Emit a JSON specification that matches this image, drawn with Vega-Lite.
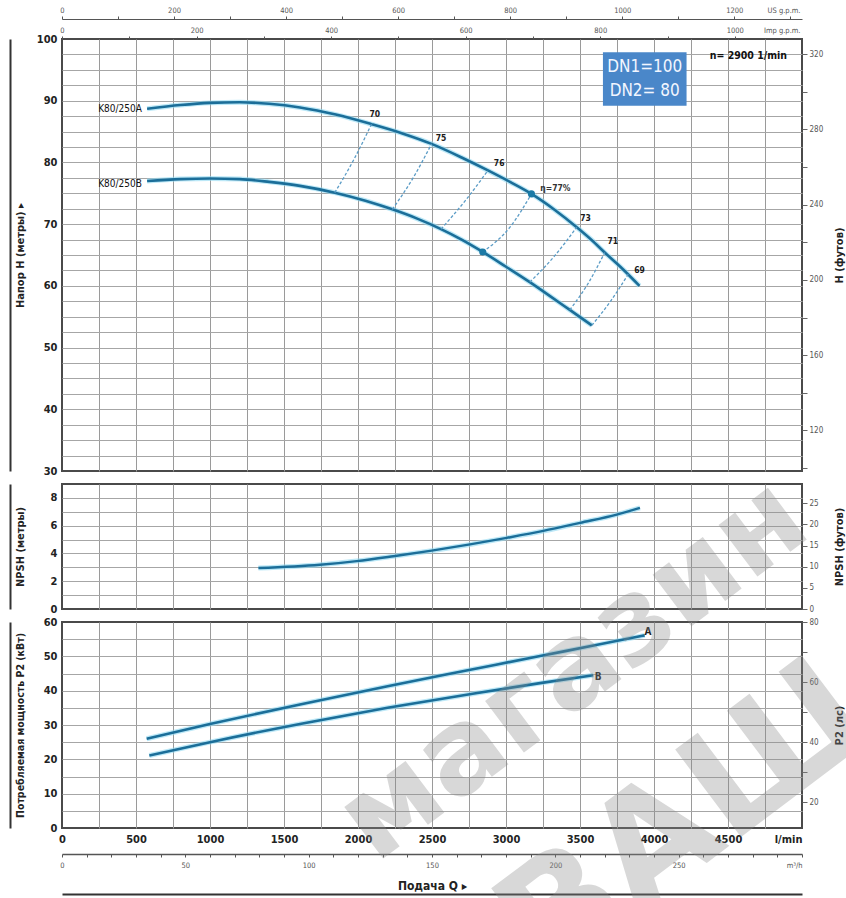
{
  "$schema": "https://vega.github.io/schema/vega-lite/v6.json",
  "background": "white",
  "padding": {"left": 9, "top": 5, "right": 0, "bottom": 0},
  "spacing": 13,
  "bounds": "flush",
  "config": {
    "font": "Liberation Sans Narrow, Arial Narrow, DejaVu Sans Condensed, sans-serif",
    "view": {"stroke": "#4a4a4a", "strokeWidth": 2},
    "axis": {
      "labelFont": "Liberation Sans Narrow, Arial Narrow, DejaVu Sans Condensed, sans-serif",
      "titleFont": "Liberation Sans Narrow, Arial Narrow, DejaVu Sans Condensed, sans-serif",
      "labelFlush": false, "labelOverlap": false, "labelBound": false,
      "gridColor": "#a6a6a6", "gridWidth": 1,
      "domain": false, "ticks": false,
      "labelColor": "#222", "titleColor": "#222",
      "labelFontSize": 11, "labelFontWeight": "bold", "labelPadding": 5,
      "titleFontSize": 11, "titleFontWeight": "bold"
    },
    "text": {"font": "Liberation Sans Narrow, Arial Narrow, DejaVu Sans Condensed, sans-serif"}
  },
  "datasets": {
    "head": [
      {"pump": "A", "q": 575, "h": 88.7}, {"pump": "A", "q": 800, "h": 89.3}, {"pump": "A", "q": 1000, "h": 89.65},
      {"pump": "A", "q": 1200, "h": 89.75}, {"pump": "A", "q": 1400, "h": 89.5}, {"pump": "A", "q": 1608, "h": 88.9},
      {"pump": "A", "q": 1850, "h": 87.75}, {"pump": "A", "q": 2091, "h": 86.2}, {"pump": "A", "q": 2300, "h": 84.7},
      {"pump": "A", "q": 2497, "h": 83.0}, {"pump": "A", "q": 2700, "h": 80.8}, {"pump": "A", "q": 2878, "h": 78.7},
      {"pump": "A", "q": 3030, "h": 76.8}, {"pump": "A", "q": 3172, "h": 74.9}, {"pump": "A", "q": 3330, "h": 72.3},
      {"pump": "A", "q": 3478, "h": 69.5}, {"pump": "A", "q": 3580, "h": 67.4}, {"pump": "A", "q": 3667, "h": 65.4},
      {"pump": "A", "q": 3790, "h": 62.7}, {"pump": "A", "q": 3902, "h": 60.0},
      {"pump": "B", "q": 575, "h": 77.0}, {"pump": "B", "q": 800, "h": 77.3}, {"pump": "B", "q": 1000, "h": 77.4},
      {"pump": "B", "q": 1200, "h": 77.3}, {"pump": "B", "q": 1400, "h": 76.85}, {"pump": "B", "q": 1608, "h": 76.2},
      {"pump": "B", "q": 1843, "h": 75.1}, {"pump": "B", "q": 2050, "h": 73.8}, {"pump": "B", "q": 2232, "h": 72.4},
      {"pump": "B", "q": 2400, "h": 70.9}, {"pump": "B", "q": 2561, "h": 69.2}, {"pump": "B", "q": 2700, "h": 67.5},
      {"pump": "B", "q": 2843, "h": 65.5}, {"pump": "B", "q": 3000, "h": 63.1}, {"pump": "B", "q": 3161, "h": 60.6},
      {"pump": "B", "q": 3300, "h": 58.3}, {"pump": "B", "q": 3431, "h": 56.1}, {"pump": "B", "q": 3580, "h": 53.6}
    ],
    "eta": [
      {"eff": "70", "q": 1843, "h": 75.1}, {"eff": "70", "q": 1975, "h": 80.6}, {"eff": "70", "q": 2091, "h": 86.2},
      {"eff": "75", "q": 2232, "h": 72.4}, {"eff": "75", "q": 2375, "h": 77.6}, {"eff": "75", "q": 2497, "h": 83.0},
      {"eff": "76", "q": 2561, "h": 69.2}, {"eff": "76", "q": 2728, "h": 73.9}, {"eff": "76", "q": 2878, "h": 78.7},
      {"eff": "77", "q": 2843, "h": 65.5}, {"eff": "77", "q": 3030, "h": 69.6}, {"eff": "77", "q": 3172, "h": 74.9},
      {"eff": "73", "q": 3161, "h": 60.6}, {"eff": "73", "q": 3330, "h": 64.9}, {"eff": "73", "q": 3478, "h": 69.5},
      {"eff": "71", "q": 3431, "h": 56.1}, {"eff": "71", "q": 3560, "h": 60.6}, {"eff": "71", "q": 3667, "h": 65.4},
      {"eff": "69", "q": 3580, "h": 53.6}, {"eff": "69", "q": 3712, "h": 57.7}, {"eff": "69", "q": 3826, "h": 61.9}
    ],
    "bep": [{"pump": "A", "q": 3172, "h": 74.9}, {"pump": "B", "q": 2843, "h": 65.5}],
    "effLabels": [
      {"label": "70", "q": 2114, "h": 87.9}, {"label": "75", "q": 2561, "h": 83.9},
      {"label": "76", "q": 2954, "h": 79.9}, {"label": "73", "q": 3537, "h": 71.0},
      {"label": "71", "q": 3721, "h": 67.2}, {"label": "69", "q": 3902, "h": 62.6}
    ],
    "bepLabel": [{"label": "η=77%", "q": 3232, "h": 75.8}],
    "pumpLabels": [{"label": "K80/250A", "q": 540, "h": 88.65}, {"label": "K80/250B", "q": 540, "h": 76.5}],
    "speed": [{"label": "n= 2900 1/min", "q": 4899, "h": 97.3}],
    "dnBox": [{"q1": 3655, "q2": 4220, "h1": 89.2, "h2": 97.85}],
    "dnText": [{"label": "DN1=100", "q": 3937, "h": 95.45}, {"label": "DN2= 80", "q": 3937, "h": 91.5}],
    "npsh": [
      {"q": 1327, "npsh": 2.95}, {"q": 1743, "npsh": 3.19}, {"q": 1991, "npsh": 3.45}, {"q": 2239, "npsh": 3.8},
      {"q": 2498, "npsh": 4.2}, {"q": 2757, "npsh": 4.65}, {"q": 3005, "npsh": 5.12}, {"q": 3252, "npsh": 5.62},
      {"q": 3500, "npsh": 6.2}, {"q": 3748, "npsh": 6.8}, {"q": 3905, "npsh": 7.28}
    ],
    "power": [
      {"pump": "A", "q": 572, "p": 26.0}, {"pump": "A", "q": 1000, "p": 30.3}, {"pump": "A", "q": 1608, "p": 36.0},
      {"pump": "A", "q": 2200, "p": 41.3}, {"pump": "A", "q": 2785, "p": 46.3}, {"pump": "A", "q": 3230, "p": 50.1},
      {"pump": "A", "q": 3600, "p": 53.2}, {"pump": "A", "q": 3937, "p": 56.1},
      {"pump": "B", "q": 590, "p": 21.1}, {"pump": "B", "q": 1000, "p": 25.0}, {"pump": "B", "q": 1608, "p": 30.3},
      {"pump": "B", "q": 2200, "p": 35.0}, {"pump": "B", "q": 2785, "p": 39.2}, {"pump": "B", "q": 3230, "p": 42.2},
      {"pump": "B", "q": 3590, "p": 44.5}
    ],
    "powerLabels": [{"label": "A", "q": 3959, "p": 57.0}, {"label": "B", "q": 3622, "p": 43.9}],
    "stamp1": [{"label": "магазин", "q": 3601, "p": 37.6}],
    "stamp2": [{"label": "ВАШ", "q": 4392, "p": -9.0}]
  },
  "vconcat": [
    {
      "width": 740, "height": 432,
      "layer": [
        {
          "data": {"name": "head"},
          "mark": {"type": "line", "color": "#8fd8f2", "strokeWidth": 5, "opacity": 0.6, "interpolate": "monotone"},
          "encoding": {
            "x": {"field": "q", "type": "quantitative", "scale": {"domain": [0, 5000], "nice": false, "zero": false},
              "axis": {"values": [0,250,500,750,1000,1250,1500,1750,2000,2250,2500,2750,3000,3250,3500,3750,4000,4250,4500,4750,5000],
                "labels": false, "title": null, "gridColor": "#9a9a9a",
                "gridOpacity": {"condition": {"test": "datum.value == 0 || datum.value == 5000", "value": 0}, "value": 1}}},
            "y": {"field": "h", "type": "quantitative", "scale": {"domain": [30, 100], "nice": false, "zero": false},
              "axis": {"values": [30,32.5,35,37.5,40,42.5,45,47.5,50,52.5,55,57.5,60,62.5,65,67.5,70,72.5,75,77.5,80,82.5,85,87.5,90,92.5,95,97.5,100],
                "format": "d", "labelExpr": "datum.value % 10 == 0 ? datum.label : ''",
                "title": "Напор H (метры) ▸", "titleX": -42, "titleAngle": 270, "titleBaseline": "middle",
                "gridOpacity": {"condition": {"test": "datum.value == 30 || datum.value == 100", "value": 0}, "value": 1}}},
            "detail": {"field": "pump"}
          }
        },
        {
          "data": {"name": "head"},
          "mark": {"type": "line", "color": "#1b6e99", "strokeWidth": 2.6, "interpolate": "monotone"},
          "encoding": {
            "x": {"field": "q", "type": "quantitative", "axis": null},
            "y": {"field": "h", "type": "quantitative", "axis": null},
            "detail": {"field": "pump"}
          }
        },
        {
          "data": {"name": "eta"},
          "mark": {"type": "line", "color": "#5b9cc6", "strokeWidth": 1.3, "strokeDash": [3, 2], "interpolate": "monotone"},
          "encoding": {
            "x": {"field": "q", "type": "quantitative", "axis": null},
            "y": {"field": "h", "type": "quantitative", "axis": null},
            "detail": {"field": "eff"}
          }
        },
        {
          "data": {"name": "bep"},
          "mark": {"type": "point", "filled": true, "color": "#1b7aa6", "size": 50, "opacity": 1},
          "encoding": {
            "x": {"field": "q", "type": "quantitative", "axis": null},
            "y": {"field": "h", "type": "quantitative", "axis": null}
          }
        },
        {
          "data": {"name": "effLabels"},
          "mark": {"type": "text", "fontSize": 8.5, "fontWeight": "bold", "color": "#1a1a1a"},
          "encoding": {
            "x": {"field": "q", "type": "quantitative", "axis": null},
            "y": {"field": "h", "type": "quantitative", "axis": null},
            "text": {"field": "label"}
          }
        },
        {
          "data": {"name": "bepLabel"},
          "mark": {"type": "text", "fontSize": 8.5, "fontWeight": "bold", "color": "#333", "align": "left"},
          "encoding": {
            "x": {"field": "q", "type": "quantitative", "axis": null},
            "y": {"field": "h", "type": "quantitative", "axis": null},
            "text": {"field": "label"}
          }
        },
        {
          "data": {"name": "pumpLabels"},
          "mark": {"type": "text", "fontSize": 10, "color": "#111", "align": "right"},
          "encoding": {
            "x": {"field": "q", "type": "quantitative", "axis": null},
            "y": {"field": "h", "type": "quantitative", "axis": null},
            "text": {"field": "label"}
          }
        },
        {
          "data": {"name": "speed"},
          "mark": {"type": "text", "fontSize": 10.5, "fontWeight": "bold", "color": "#111", "align": "right"},
          "encoding": {
            "x": {"field": "q", "type": "quantitative", "axis": null},
            "y": {"field": "h", "type": "quantitative", "axis": null},
            "text": {"field": "label"}
          }
        },
        {
          "data": {"name": "dnBox"},
          "mark": {"type": "rect", "color": "#4a87c9"},
          "encoding": {
            "x": {"field": "q1", "type": "quantitative", "axis": null},
            "x2": {"field": "q2"},
            "y": {"field": "h1", "type": "quantitative", "axis": null},
            "y2": {"field": "h2"}
          }
        },
        {
          "data": {"name": "dnText"},
          "mark": {"type": "text", "fontSize": 17, "color": "#f2f6ff"},
          "encoding": {
            "x": {"field": "q", "type": "quantitative", "axis": null},
            "y": {"field": "h", "type": "quantitative", "axis": null},
            "text": {"field": "label"}
          }
        },
        {
          "data": {"values": [{}]},
          "mark": {"type": "point", "opacity": 0},
          "encoding": {
            "x": {"datum": 2500, "type": "quantitative", "axis": null},
            "y": {"datum": 60, "type": "quantitative",
              "axis": {"orient": "right", "values": [30.48,36.576,42.672,48.768,54.864,60.96,67.056,73.152,79.248,85.344,91.44,97.536],
                "labelExpr": "round(datum.value * 3.28084) % 40 == 0 ? format(round(datum.value * 3.28084), 'd') : ''", "grid": false,
                "ticks": true, "tickSize": 5, "tickColor": "#666",
                "labelFontSize": 8, "labelFontWeight": "normal", "labelColor": "#555", "labelPadding": 2,
                "title": "H (футов)", "titleAngle": 270, "titleX": 37, "titleBaseline": "middle"}}
          }
        },
        {
          "data": {"values": [{}]},
          "mark": {"type": "point", "opacity": 0},
          "encoding": {
            "x": {"datum": 2500, "type": "quantitative", "axis": null},
            "y": {"datum": 60, "type": "quantitative",
              "axis": {"orient": "left", "offset": 52, "domain": true, "domainColor": "#333", "domainWidth": 2,
                "labels": false, "grid": false, "title": null}}
          }
        },
        {
          "data": {"values": [{}]},
          "mark": {"type": "point", "opacity": 0},
          "encoding": {
            "y": {"datum": 60, "type": "quantitative", "axis": null},
            "x": {"datum": 2500, "type": "quantitative",
              "axis": {"orient": "top", "offset": 20,
                "values": [0,378.541,757.082,1135.623,1514.164,1892.705,2271.246,2649.787,3028.328,3406.869,3785.41,4163.951,4542.492,4921.033],
                "labelExpr": "round(datum.value / 3.78541) % 200 == 0 ? format(round(datum.value / 3.78541), 'd') : ''", "grid": false,
                "domain": true, "domainColor": "#555", "domainWidth": 1,
                "ticks": true, "tickSize": 3, "tickColor": "#555",
                "labelFontSize": 7.5, "labelFontWeight": "normal", "labelColor": "#555", "labelPadding": 2,
                "title": "US g.p.m.", "titleFontSize": 7.5, "titleFontWeight": "normal", "titleColor": "#555",
                "titleX": 738, "titleY": -9, "titleAlign": "right", "titleBaseline": "middle"}}
          }
        },
        {
          "data": {"values": [{}]},
          "mark": {"type": "point", "opacity": 0},
          "encoding": {
            "y": {"datum": 60, "type": "quantitative", "axis": null},
            "x": {"datum": 2500, "type": "quantitative",
              "axis": {"orient": "top", "offset": 0,
                "values": [0,454.609,909.218,1363.827,1818.436,2273.045,2727.654,3182.263,3636.872,4091.481,4546.09],
                "labelExpr": "round(datum.value / 4.54609) % 200 == 0 ? format(round(datum.value / 4.54609), 'd') : ''", "grid": false,
                "ticks": true, "tickSize": 3, "tickColor": "#555",
                "labelFontSize": 7.5, "labelFontWeight": "normal", "labelColor": "#555", "labelPadding": 2,
                "title": "Imp g.p.m.", "titleFontSize": 7.5, "titleFontWeight": "normal", "titleColor": "#555",
                "titleX": 738, "titleY": -9, "titleAlign": "right", "titleBaseline": "middle"}}
          }
        }
      ],
      "resolve": {"axis": {"x": "independent", "y": "independent"}}
    },
    {
      "width": 740, "height": 125,
      "layer": [
        {
          "data": {"name": "npsh"},
          "mark": {"type": "line", "color": "#8fd8f2", "strokeWidth": 5, "opacity": 0.6, "interpolate": "monotone"},
          "encoding": {
            "x": {"field": "q", "type": "quantitative", "scale": {"domain": [0, 5000], "nice": false, "zero": false},
              "axis": {"values": [0,250,500,750,1000,1250,1500,1750,2000,2250,2500,2750,3000,3250,3500,3750,4000,4250,4500,4750,5000],
                "labels": false, "title": null, "gridColor": "#9a9a9a",
                "gridOpacity": {"condition": {"test": "datum.value == 0 || datum.value == 5000", "value": 0}, "value": 1}}},
            "y": {"field": "npsh", "type": "quantitative", "scale": {"domain": [0, 9], "nice": false, "zero": false},
              "axis": {"values": [0,0.5,1,1.5,2,2.5,3,3.5,4,4.5,5,5.5,6,6.5,7,7.5,8,8.5,9],
                "format": "d", "labelExpr": "datum.value % 2 == 0 ? datum.label : ''",
                "title": "NPSH (метры)", "titleX": -42, "titleAngle": 270, "titleBaseline": "middle",
                "gridOpacity": {"condition": {"test": "datum.value == 0 || datum.value == 9", "value": 0}, "value": 1}}}
          }
        },
        {
          "data": {"name": "npsh"},
          "mark": {"type": "line", "color": "#1b6e99", "strokeWidth": 2.4, "interpolate": "monotone"},
          "encoding": {
            "x": {"field": "q", "type": "quantitative", "axis": null},
            "y": {"field": "npsh", "type": "quantitative", "axis": null}
          }
        },
        {
          "data": {"values": [{}]},
          "mark": {"type": "point", "opacity": 0},
          "encoding": {
            "x": {"datum": 2500, "type": "quantitative", "axis": null},
            "y": {"datum": 4, "type": "quantitative",
              "axis": {"orient": "right", "values": [0,1.524,3.048,4.572,6.096,7.62], "grid": false,
                "labelExpr": "format(round(datum.value * 3.28084), 'd')",
                "ticks": true, "tickSize": 5, "tickColor": "#666",
                "labelFontSize": 8, "labelFontWeight": "normal", "labelColor": "#555", "labelPadding": 2,
                "title": "NPSH (футов)", "titleAngle": 270, "titleX": 37, "titleBaseline": "middle"}}
          }
        },
        {
          "data": {"values": [{}]},
          "mark": {"type": "point", "opacity": 0},
          "encoding": {
            "x": {"datum": 2500, "type": "quantitative", "axis": null},
            "y": {"datum": 4, "type": "quantitative",
              "axis": {"orient": "left", "offset": 52, "domain": true, "domainColor": "#333", "domainWidth": 2,
                "labels": false, "grid": false, "title": null}}
          }
        }
      ],
      "resolve": {"axis": {"x": "independent", "y": "independent"}}
    },
    {
      "width": 740, "height": 206,
      "layer": [
        {
          "data": {"name": "power"},
          "mark": {"type": "line", "color": "#8fd8f2", "strokeWidth": 5, "opacity": 0.6, "interpolate": "monotone"},
          "encoding": {
            "x": {"field": "q", "type": "quantitative", "scale": {"domain": [0, 5000], "nice": false, "zero": false},
              "axis": {"values": [0,250,500,750,1000,1250,1500,1750,2000,2250,2500,2750,3000,3250,3500,3750,4000,4250,4500,4750,5000],
                "format": "d", "labelExpr": "datum.value == 5000 ? 'l/min' : (datum.value % 500 == 0 ? datum.label : '')",
                "labelAlign": {"condition": {"test": "datum.value == 5000", "value": "right"}, "value": "center"},
                "title": null, "gridColor": "#9a9a9a",
                "gridOpacity": {"condition": {"test": "datum.value == 0 || datum.value == 5000", "value": 0}, "value": 1}}},
            "y": {"field": "p", "type": "quantitative", "scale": {"domain": [0, 60], "nice": false, "zero": false},
              "axis": {"values": [0,5,10,15,20,25,30,35,40,45,50,55,60],
                "format": "d", "labelExpr": "datum.value % 10 == 0 ? datum.label : ''",
                "title": "Потребляемая мощность P2 (кВт)", "titleFontSize": 10.5, "titleX": -42, "titleAngle": 270, "titleBaseline": "middle",
                "gridOpacity": {"condition": {"test": "datum.value == 0 || datum.value == 60", "value": 0}, "value": 1}}},
            "detail": {"field": "pump"}
          }
        },
        {
          "data": {"name": "power"},
          "mark": {"type": "line", "color": "#1b6e99", "strokeWidth": 2.6, "interpolate": "monotone"},
          "encoding": {
            "x": {"field": "q", "type": "quantitative", "axis": null},
            "y": {"field": "p", "type": "quantitative", "axis": null},
            "detail": {"field": "pump"}
          }
        },
        {
          "data": {"name": "powerLabels"},
          "mark": {"type": "text", "fontSize": 10, "fontWeight": "bold", "color": "#222"},
          "encoding": {
            "x": {"field": "q", "type": "quantitative", "axis": null},
            "y": {"field": "p", "type": "quantitative", "axis": null},
            "text": {"field": "label"}
          }
        },
        {
          "data": {"name": "stamp1"},
          "mark": {"type": "text", "font": "DejaVu Sans", "fontWeight": "bold", "fontSize": 118, "angle": -37,
            "align": "center", "baseline": "alphabetic", "color": "#8a8a8a", "opacity": 0.33},
          "encoding": {
            "x": {"field": "q", "type": "quantitative", "axis": null},
            "y": {"field": "p", "type": "quantitative", "axis": null},
            "text": {"field": "label"}
          }
        },
        {
          "data": {"name": "stamp2"},
          "mark": {"type": "text", "font": "DejaVu Sans", "fontWeight": "bold", "fontSize": 150, "angle": -37,
            "align": "center", "baseline": "alphabetic", "color": "#8a8a8a", "opacity": 0.33},
          "encoding": {
            "x": {"field": "q", "type": "quantitative", "axis": null},
            "y": {"field": "p", "type": "quantitative", "axis": null},
            "text": {"field": "label"}
          }
        },
        {
          "data": {"values": [{}]},
          "mark": {"type": "point", "opacity": 0},
          "encoding": {
            "x": {"datum": 2500, "type": "quantitative", "axis": null},
            "y": {"datum": 30, "type": "quantitative",
              "axis": {"orient": "right", "values": [7.572,16.31,25.048,33.786,42.524,51.262,60],
                "labelExpr": "round(80 - (60 - datum.value) / 0.8738) % 20 == 0 ? format(round(80 - (60 - datum.value) / 0.8738), 'd') : ''",
                "grid": false, "ticks": true, "tickSize": 5, "tickColor": "#666",
                "labelFontSize": 8, "labelFontWeight": "normal", "labelColor": "#555", "labelPadding": 2,
                "title": "P2 (лс)", "titleAngle": 270, "titleX": 37, "titleBaseline": "middle"}}
          }
        },
        {
          "data": {"values": [{}]},
          "mark": {"type": "point", "opacity": 0},
          "encoding": {
            "x": {"datum": 2500, "type": "quantitative", "axis": null},
            "y": {"datum": 30, "type": "quantitative",
              "axis": {"orient": "left", "offset": 52, "domain": true, "domainColor": "#333", "domainWidth": 2,
                "labels": false, "grid": false, "title": null}}
          }
        },
        {
          "data": {"values": [{}]},
          "mark": {"type": "point", "opacity": 0},
          "encoding": {
            "y": {"datum": 30, "type": "quantitative", "axis": null},
            "x": {"datum": 2500, "type": "quantitative",
              "axis": {"orient": "bottom", "offset": 26,
                "values": [0,166.667,333.333,500,666.667,833.333,1000,1166.667,1333.333,1500,1666.667,1833.333,2000,2166.667,2333.333,2500,2666.667,2833.333,3000,3166.667,3333.333,3500,3666.667,3833.333,4000,4166.667,4333.333,4500,4666.667,4833.333,5000],
                "labelExpr": "round(datum.value * 0.06) == 300 ? 'm³/h' : (round(datum.value * 0.06) % 50 == 0 ? format(round(datum.value * 0.06), 'd') : '')",
                "labelAlign": {"condition": {"test": "datum.value == 5000", "value": "right"}, "value": "center"},
                "grid": false, "domain": true, "domainColor": "#555", "domainWidth": 1.5,
                "ticks": true, "tickSize": 3, "tickColor": "#555",
                "labelFontSize": 7.5, "labelFontWeight": "normal", "labelColor": "#555", "labelPadding": 4,
                "title": "Подача Q ▸", "titleFontSize": 12, "titleY": 31, "titleBaseline": "middle"}}
          }
        },
        {
          "data": {"values": [{}]},
          "mark": {"type": "point", "opacity": 0},
          "encoding": {
            "y": {"datum": 30, "type": "quantitative", "axis": null},
            "x": {"datum": 2500, "type": "quantitative",
              "axis": {"orient": "bottom", "offset": 66, "domain": true, "domainColor": "#333", "domainWidth": 2,
                "labels": false, "grid": false, "title": null}}
          }
        }
      ],
      "resolve": {"axis": {"x": "independent", "y": "independent"}}
    }
  ]
}
